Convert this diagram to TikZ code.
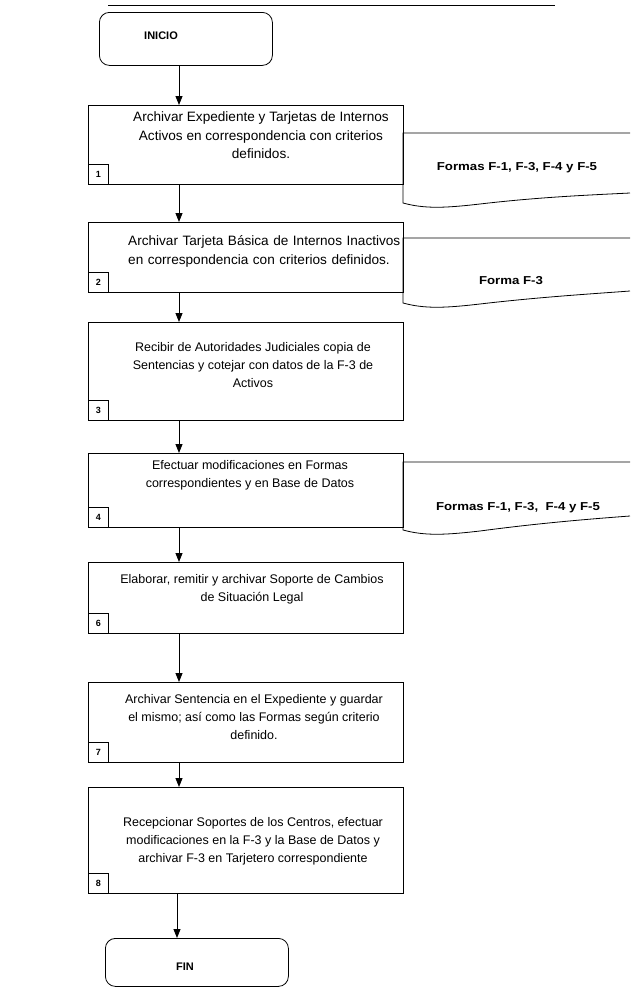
\documentclass[tikz,border=0pt]{standalone}
\usepackage{fontspec}
\setmainfont{Liberation Sans}
\newfontfamily\lblfont[FakeStretch=1.15]{Liberation Sans}
\usetikzlibrary{arrows.meta}
\tikzset{
  stepbox/.style={draw, line width=0.8pt, minimum width=315pt, anchor=north west, inner sep=0pt},
  numbox/.style={draw, line width=0.8pt, minimum width=20pt, minimum height=20pt, anchor=south west, inner sep=0pt, font=\bfseries\fontsize{9}{9}\selectfont},
  boxtext/.style={align=center, font=\fontsize{12.5}{18}\selectfont, anchor=north, inner sep=0pt},
  bigtext/.style={align=center, font=\fontsize{13.6}{18.5}\selectfont, anchor=north, inner sep=0pt},
  termbox/.style={draw, line width=0.8pt, rounded corners=10pt, anchor=north west, inner sep=0pt},
  termtext/.style={font=\bfseries\fontsize{11}{12}\selectfont, inner sep=0pt},
  doclabel/.style={font=\lblfont\bfseries\fontsize{11.5}{13}\selectfont, inner sep=0pt},
  docline/.style={line width=0.8pt},
  arr/.style={line width=0.9pt, -{Triangle[length=9pt,width=7pt]}}
}
\begin{document}
\begin{tikzpicture}[x=1pt,y=-1pt]
\useasboundingbox (0,0) rectangle (630,991);
\coordinate (ax) at (179,0);
\draw[line width=0.6pt] (108,5) -- (555,5);
% terminals
\node[termbox, minimum width=173pt, minimum height=53pt] (inicio) at (99,12) {};
\node[termtext] (inicioT) at (161,36) {INICIO};
\node[termbox, minimum width=183pt, minimum height=48pt] (fin) at (105,938) {};
\node[termtext] (finT) at (185,967) {FIN};
% steps
\node[stepbox, minimum height=79pt] (b1) at (88,105) {};
\node[bigtext] (t1) at (261,111.5) {Archivar Expediente y Tarjetas de Internos\\Activos en correspondencia con criterios\\definidos.};
\node[numbox] (n1) at (b1.south west) {1};
\node[stepbox, minimum height=70pt] (b2) at (88,222) {};
\node[bigtext, align=left, text width=264pt, anchor=north west] (t2) at (128,235.5) {\makebox[264pt][s]{Archivar Tarjeta Básica de Internos Inactivos}\\en correspondencia con criterios definidos.};
\node[numbox] (n2) at (b2.south west) {2};
\node[stepbox, minimum height=98pt] (b3) at (88,322) {};
\node[boxtext] (t3) at (253,342.5) {Recibir de Autoridades Judiciales copia de\\Sentencias y cotejar con datos de la F-3 de\\Activos};
\node[numbox] (n3) at (b3.south west) {3};
\node[stepbox, minimum height=74pt] (b4) at (88,453) {};
\node[boxtext] (t4) at (250,460.5) {Efectuar modificaciones en Formas\\correspondientes y en Base de Datos};
\node[numbox] (n4) at (b4.south west) {4};
\node[stepbox, minimum height=71pt] (b6) at (88,562) {};
\node[boxtext] (t6) at (252,574.5) {Elaborar, remitir y archivar Soporte de Cambios\\de Situación Legal};
\node[numbox] (n6) at (b6.south west) {6};
\node[stepbox, minimum height=80pt] (b7) at (88,682) {};
\node[boxtext] (t7) at (254,694.5) {Archivar Sentencia en el Expediente y guardar\\el mismo; así como las Formas según criterio\\definido.};
\node[numbox] (n7) at (b7.south west) {7};
\node[stepbox, minimum height=106pt] (b8) at (88,787) {};
\node[boxtext] (t8) at (253,817) {Recepcionar Soportes de los Centros, efectuar\\modificaciones en la F-3 y la Base de Datos y\\archivar F-3 en Tarjetero correspondiente};
\node[numbox] (n8) at (b8.south west) {8};
% documents
\draw[docline] (630,133) -- (403,133) -- (403,203) .. controls (425,209) and (445,208) .. (480,204) .. controls (540,197) and (590,195) .. (630,193);
\node[doclabel] (d1) at (517,168) {Formas F-1, F-3, F-4 y F-5};
\draw[docline] (630,238) -- (403,238) -- (403,303) .. controls (425,309) and (445,308) .. (480,304) .. controls (540,297) and (590,294) .. (630,291);
\node[doclabel] (d2) at (511,281) {Forma F-3};
\draw[docline] (630,462) -- (403,462) -- (403,530) .. controls (425,536) and (445,535) .. (480,531) .. controls (540,523) and (590,519) .. (630,516);
\node[doclabel] (d3) at (518,508) {Formas F-1, F-3,\ \ F-4 y F-5};
% connectors
\draw[arr] (inicio.south -| ax) -- (b1.north -| ax);
\draw[arr] (b1.south -| ax) -- (b2.north -| ax);
\draw[arr] (b2.south -| ax) -- (b3.north -| ax);
\draw[arr] (b3.south -| ax) -- (b4.north -| ax);
\draw[arr] (b4.south -| ax) -- (b6.north -| ax);
\draw[arr] (b6.south -| ax) -- (b7.north -| ax);
\draw[arr] (b7.south -| ax) -- (b8.north -| ax);
\coordinate (ax2) at (177,0);
\draw[arr] (b8.south -| ax2) -- (fin.north -| ax2);
\end{tikzpicture}
\end{document}
